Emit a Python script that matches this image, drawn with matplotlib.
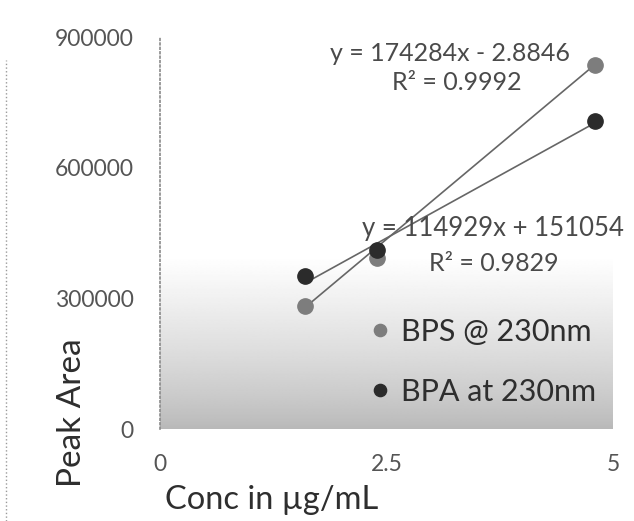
"""
Calibration curves (peak area vs concentration) for BPS and BPA at 230 nm,
with linear trendlines and their equations.
"""
import numpy as np
import matplotlib.pyplot as plt
from matplotlib.lines import Line2D

plt.rcParams['font.family'] = ['Lato', 'DejaVu Sans']

# data
conc = [1.6, 2.4, 4.8]
bps_area = [283000, 393000, 835000]
bpa_area = [352000, 410000, 708000]
# trendline coefficients (slope, intercept) as printed on the chart
bps_fit = (174284, -2.8846)
bpa_fit = (114929, 151054)
bps_label = "BPS @ 230nm"
bpa_label = "BPA at 230nm"
bps_eq = ["y = 174284x - 2.8846", "R² = 0.9992"]
bpa_eq = ["y = 114929x + 151054", "R² = 0.9829"]
x_ticks = [0, 2.5, 5]
x_ticklabels = ["0", "2.5", "5"]
y_ticks = [0, 300000, 600000, 900000]

TICK_C = '#555555'
TEXT_C = '#2e2e2e'
EQ_C = '#4a4a4a'
BPS_C = '#7d7d7d'
BPA_C = '#2b2b2b'
LINE_C = '#666666'

fig = plt.figure(figsize=(6.34, 5.21), dpi=100)
ax = fig.add_axes([160 / 634, 92 / 521, 453 / 634, 392 / 521])
ax.set_xlim(0, 5)
ax.set_ylim(0, 900000)

# grey fill fading out towards the top of the plot area
t = np.linspace(0, 1, 256)
grad = (0.72 + 0.28 * t ** 0.8).reshape(-1, 1)
ax.imshow(grad, extent=(0, 1, 0, 0.44), origin='lower', cmap='gray',
          vmin=0, vmax=1, aspect='auto', transform=ax.transAxes,
          zorder=0, interpolation='bilinear')

# trendlines
xs = np.array([conc[0], conc[-1]])
ax.plot(xs, bps_fit[0] * xs + bps_fit[1], color=LINE_C, lw=1.2, zorder=2)
ax.plot(xs, bpa_fit[0] * xs + bpa_fit[1], color=LINE_C, lw=1.2, zorder=2)

ax.plot(conc, bps_area, 'o', color=BPS_C, ms=11, zorder=3, label=bps_label)
ax.plot(conc, bpa_area, 'o', color=BPA_C, ms=11, zorder=3, label=bpa_label)

# trendline equations
ax.text(3.2, 863000, bps_eq[0], ha='center', va='center', fontsize=18,
        color=EQ_C)
ax.text(3.28, 795000, bps_eq[1], ha='center', va='center', fontsize=18,
        color=EQ_C)
ax.text(3.68, 460000, bpa_eq[0], ha='center', va='center', fontsize=18.5,
        color=EQ_C)
ax.text(3.68, 380000, bpa_eq[1], ha='center', va='center', fontsize=18,
        color=EQ_C)

leg = ax.legend(loc='lower right', bbox_to_anchor=(1.01, 0.005), frameon=False,
                fontsize=22, handletextpad=0.25, labelspacing=1.05,
                markerscale=0.8, borderpad=0.2, handlelength=0.9,
                labelcolor=TEXT_C)

ax.set_xticks(x_ticks)
ax.set_xticklabels(x_ticklabels)
ax.set_yticks(y_ticks)
ax.tick_params(axis='both', length=0, labelsize=16.5, labelcolor=TICK_C)
ax.tick_params(axis='x', pad=18)
ax.tick_params(axis='y', pad=19)

for s in ['top', 'right', 'bottom']:
    ax.spines[s].set_visible(False)
ax.spines['left'].set_color('#8a8a8a')
ax.spines['left'].set_linestyle(':')
ax.spines['left'].set_linewidth(1.2)

fig.text(165 / 634, 1 - 500 / 521, "Conc in \u00b5g/mL", fontsize=23.5,
         color=TEXT_C, ha='left', va='center')
fig.text(72 / 634, 1 - 413 / 521, "Peak Area", fontsize=24, color=TEXT_C,
         rotation=90, ha='center', va='center')

# page edge of the scan
fig.add_artist(Line2D([6 / 634, 6 / 634], [0, 1 - 60 / 521], color='#9a9a9a',
                      lw=1, ls=':', transform=fig.transFigure))

fig.savefig("out.png", dpi=100)
